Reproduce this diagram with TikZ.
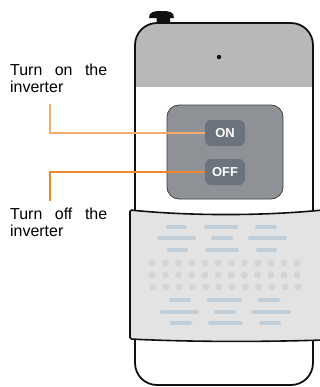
\documentclass[tikz,border=0pt]{standalone}
\usepackage{fontspec}
\setmainfont{Liberation Sans}
\begin{document}
\definecolor{bodyline}{HTML}{111111}
\definecolor{topgray}{HTML}{B7B8BA}
\definecolor{panelgray}{HTML}{8E9196}
\definecolor{btngray}{HTML}{6B737C}
\definecolor{bandfill}{HTML}{E3E3E3}
\definecolor{grillbar}{HTML}{C2CED7}
\definecolor{grilldot}{HTML}{D4D5D9}
\definecolor{leadon}{HTML}{F5AA6E}
\definecolor{leadoff}{HTML}{EF8630}
\begin{tikzpicture}[x=1bp,y=-1bp,
  outline/.style={draw=bodyline,line width=1.8bp},
  button/.style={fill=btngray,rounded corners=6bp,minimum width=40bp,minimum height=26bp,
    inner sep=0,text=white,font=\bfseries\fontsize{13}{13}\selectfont},
  caption/.style={anchor=north west,inner sep=0,align=left,
    font=\fontsize{16}{17}\selectfont},
  bar/.style={draw=grillbar,line width=3.6bp,line cap=round},
  leader/.style={line width=1.2bp}]
\useasboundingbox (0,0) rectangle (320,387);

% antenna knob
\fill[bodyline,rounded corners=2.5bp] (156.5,15) rectangle (170,25);
\fill[bodyline] (149,18) .. controls (149,12) and (153,11) .. (161.5,11)
  .. controls (170,11) and (174,12) .. (174,18) -- cycle;

% housing
\path[fill=white] (135,23) [rounded corners=22bp] -- (313,23) -- (313,385) -- (135,385) -- cycle;
\begin{scope}
  \clip[rounded corners=22bp] (135,23) -- (313,23) -- (313,385) -- (135,385) -- cycle;
  \fill[topgray] (130,20) rectangle (318,87);
\end{scope}
\draw[outline,rounded corners=22bp] (135,23) -- (313,23) -- (313,385) -- (135,385) -- cycle;
\fill[bodyline] (219,57) circle (2.2bp);

% key panel and buttons
\draw[fill=panelgray,draw=black!75,line width=0.8bp,rounded corners=12bp] (167,105) rectangle (283,199);
\node[button] (onbtn) at (225,133) {ON};
\node[button] (offbtn) at (225,172) {OFF};

% sliding cover with grille
\draw[outline,fill=bandfill,line width=1.6bp,rounded corners=1.5bp]
  (130,210) .. controls (190,216) and (262,216) .. (323,210)
  -- (323,340) .. controls (262,342) and (190,342) .. (130,339) -- cycle;
\foreach \y/\a/\b/\c/\d/\e/\f in {227/166/187/204/238/255/277,
                                   238/157/196/211/233/248/287,
                                   250/167/188/205/239/256/277,
                                   300/169/191/207/242/258/280,
                                   312/160/199/214/236/251/291,
                                   323/170/192/208/243/259/281}{
  \draw[bar] (\a+1.8,\y) -- (\b-1.8,\y);
  \draw[bar] (\c+1.8,\y) -- (\d-1.8,\y);
  \draw[bar] (\e+1.8,\y) -- (\f-1.8,\y);
}
\foreach \y/\s in {263/0,275/0,287/1}{
  \foreach \i in {0,...,11}{
    \fill[grilldot] (152+\s+13.2*\i,\y) circle (3.6bp);
  }
}

% captions and leaders
\node[caption] (onlabel) at (10,64.2) {\makebox[97bp][s]{Turn on the}\\inverter};
\node[caption] (offlabel) at (10,208) {\makebox[97bp][s]{Turn off the}\\inverter};
\coordinate (ontip) at (50,104);
\coordinate (offtip) at (50,201);
\draw[leader,leadon] (onbtn.west) -| (ontip);
\draw[leader,leadoff] (offbtn.west) -| (offtip);
\end{tikzpicture}
\end{document}
